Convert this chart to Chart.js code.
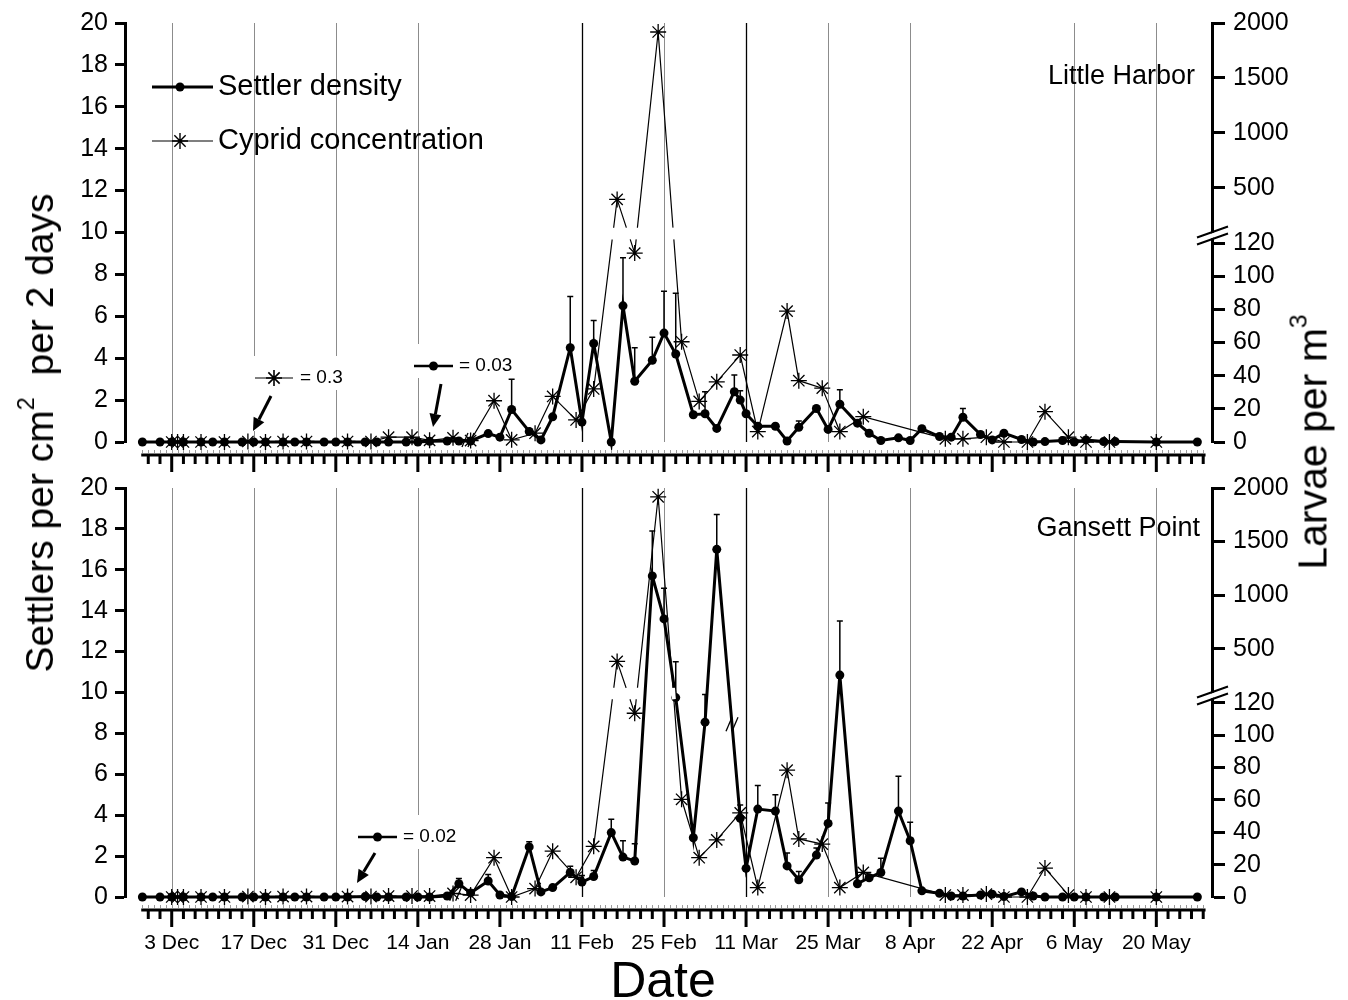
<!DOCTYPE html>
<html>
<head>
<meta charset="utf-8">
<title>Settler density and cyprid concentration</title>
<script src="https://cdn.jsdelivr.net/npm/chart.js@4.4.1/dist/chart.umd.min.js"></script>
<style>
  html, body { margin: 0; padding: 0; background: #fff; }
  #page { position: relative; width: 1348px; height: 1000px; font-family: 'Liberation Sans', Arial, sans-serif; color: #000; }
  .panel { position: absolute; left: 0; width: 1348px; }
  .ttl { position: absolute; white-space: nowrap; transform: translate(-50%, -50%); }
  .rot { transform: translate(-50%, -50%) rotate(-90deg); }
  sup { font-size: 60%; vertical-align: 0.8em; line-height: 0; }
</style>
</head>
<body>
<div id="page">
  <div class="panel" style="top:0;height:478px"><canvas id="lhChart"></canvas></div>
  <div class="panel" style="top:465px;height:535px"><canvas id="gpChart"></canvas></div>
  <div class="ttl rot" style="left:40px;top:433px;font-size:39px">Settlers per cm<sup>2</sup>&nbsp; per 2 days</div>
  <div class="ttl rot" style="left:1313px;top:442px;font-size:41px">Larvae per m<sup>3</sup></div>
  <div class="ttl" style="left:663px;top:980px;font-size:50px">Date</div>
</div>
<script>
// days counted from 3 Dec (day 0)
const tickDays = [0, 14, 28, 42, 56, 70, 84, 98, 112, 126, 140, 154, 168];
const tickLabels = ['3 Dec', '17 Dec', '31 Dec', '14 Jan', '28 Jan', '11 Feb', '25 Feb', '11 Mar', '25 Mar', '8 Apr', '22 Apr', '6 May', '20 May'];
const gridDays = [0, 14, 28, 42, 70, 84, 98, 112, 126, 154, 168];
const darkGridDays = [70, 98];
const larvaeTicks = [0, 20, 40, 60, 80, 100, 120, 500, 1000, 1500, 2000];

// Little Harbor – settlers per cm2 per 2 days
const settlerDaysLH = [-5, -2, 0, 2, 5, 7, 9, 12, 14, 16, 19, 21, 23, 26, 28, 30, 33, 35, 37, 40, 42, 44, 47, 49, 51,
  54, 56, 58, 61, 63, 65, 68, 70, 72, 75, 77, 79, 82, 84, 86, 89, 91, 93, 96, 97, 98, 100, 103, 105, 107, 110, 112, 114,
  117, 119, 121, 124, 126, 128, 131, 133, 135, 138, 140, 142, 145, 147, 149, 152, 154, 156, 159, 161, 168, 175];
const settlerLH = [0, 0, 0, 0, 0, 0, 0, 0, 0, 0, 0, 0, 0, 0, 0, 0, 0, 0, 0, 0, 0, 0.03, 0.05, 0.05, 0.05,
  0.4, 0.23, 1.55, 0.5, 0.1, 1.2, 4.5, 0.95, 4.7, 0, 6.5, 2.9, 3.9, 5.2, 4.2, 1.3, 1.35, 0.65, 2.4, 2.0, 1.35, 0.75, 0.75, 0.05, 0.7, 1.6, 0.6, 1.8,
  0.9, 0.42, 0.07, 0.2, 0.07, 0.63, 0.26, 0.23, 1.18, 0.36, 0.1, 0.42, 0.12, 0, 0.02, 0.07, 0, 0.1, 0.02, 0.02, 0, 0];
const errDaysLH = [58, 68, 72, 77, 79, 82, 84, 86, 91, 96, 97, 107, 114, 135];
const errTopLH = [3.0, 6.95, 5.8, 8.8, 4.5, 5.0, 7.2, 7.1, 2.4, 3.2, 2.45, 1.0, 2.5, 1.6];

// Gansett Point
const settlerDaysGP = [-5, -2, 0, 2, 5, 7, 9, 12, 14, 16, 19, 21, 23, 26, 28, 30, 33, 35, 37, 40, 42, 44, 47, 49, 51,
  54, 56, 58, 61, 63, 65, 68, 70, 72, 75, 77, 79, 82, 84, 86, 89, 91, 93, 97, 98, 100, 103, 105, 107, 110, 112, 114,
  117, 119, 121, 124, 126, 128, 131, 133, 135, 138, 140, 142, 145, 147, 149, 152, 154, 156, 159, 161, 168, 175];
const settlerGP = [0, 0, 0, 0, 0, 0, 0, 0, 0, 0, 0, 0, 0, 0, 0, 0, 0.02, 0, 0, 0, 0, 0, 0.05, 0.65, 0.2,
  0.78, 0.1, 0.02, 2.45, 0.25, 0.46, 1.2, 0.73, 1.0, 3.15, 1.95, 1.76, 15.7, 13.6, 9.75, 2.9, 8.55, 17.0, 3.85, 1.4, 4.3, 4.2, 1.52, 0.84, 2.05, 3.6, 10.85,
  0.65, 0.94, 1.2, 4.2, 2.75, 0.3, 0.18, 0.05, 0.05, 0.1, 0.14, 0.02, 0.25, 0.05, 0, 0, 0, 0, 0, 0, 0, 0];
const errDaysGP = [49, 54, 61, 68, 70, 72, 75, 77, 79, 82, 84, 86, 91, 93, 97, 100, 103, 105, 107, 110, 112, 114, 121, 124, 126];
const errTopGP = [0.9, 1.1, 2.7, 1.5, 1.05, 1.3, 3.8, 2.75, 2.6, 17.9, 15.1, 11.5, 9.9, 18.7, 4.5, 5.45, 5.0, 2.15, 1.25, 2.4, 4.6, 13.5, 1.9, 5.9, 3.65];

// cyprid concentration, larvae per m3
const cypridDays = [0, 1, 2, 5, 9, 13, 16, 19, 23, 30, 34, 37, 41, 44, 48, 51, 55, 58, 62, 65, 69, 72, 76, 79, 83,
  87, 90, 93, 97, 100, 105, 107, 111, 114, 118, 132, 135, 139, 142, 146, 149, 153, 156, 160, 168];
const cypridLH = [0, 0, 0, 0, 0, 0.3, 0, 0.3, 0.3, 0.3, 0.3, 2.9, 2.9, 1.0, 2.5, 0.9, 24.9, 1.3, 5.3, 27.5, 13.3, 32, 393, 114, 1918,
  60.5, 24.5, 36.3, 52.5, 6.3, 79, 37, 32.5, 6.3, 15.3, 1.9, 1.9, 2.9, 0, 0, 18.3, 2.9, 0, 0, 0];
const cypridGP = [0, 0, 0, 0, 0, 0.3, 0, 0.3, 0.3, 0.3, 0.3, 0.6, 0.6, 0.6, 2.2, 1.2, 24.3, 0, 5.2, 28.3, 12.2, 31.3, 382, 113.6, 1918,
  60.4, 24.3, 35.3, 52, 5.8, 78.4, 35.9, 32.7, 5.8, 15.2, 1.2, 1.2, 1.8, 0, 0, 17.9, 1.2, 0, 0, 0];

const X_MIN = -7.97, X_MAX = 177.5;
const BREAK_AXIS = 9.95, BREAK_HALF = 0.28;

Chart.defaults.font.family = "'Liberation Sans', Arial, sans-serif";
Chart.defaults.color = '#000';

// broken right axis: 0-120 linear below the break, 500-2000 compressed above it
function larvaeToAxis(v) {
  return v <= 120 ? v * 0.0791 : 9.52 + v * 0.00524;
}
function pts(days, vals, f) {
  return days.map((d, i) => ({ x: d, y: f ? f(vals[i]) : vals[i] }));
}

function drawStar(ctx, x, y, r) {
  ctx.beginPath();
  for (let a = 0; a < 4; a++) {
    const t = a * Math.PI / 4;
    ctx.moveTo(x - r * Math.cos(t), y - r * Math.sin(t));
    ctx.lineTo(x + r * Math.cos(t), y + r * Math.sin(t));
  }
  ctx.stroke();
}
function drawDot(ctx, x, y, r) {
  ctx.beginPath(); ctx.arc(x, y, r, 0, Math.PI * 2); ctx.fill();
}
function drawArrow(ctx, x1, y1, x2, y2) {
  const ang = Math.atan2(y2 - y1, x2 - x1);
  const head = 13, w = 6;
  const bx = x2 - head * Math.cos(ang), by = y2 - head * Math.sin(ang);
  ctx.lineWidth = 3;
  ctx.beginPath(); ctx.moveTo(x1, y1); ctx.lineTo(bx, by); ctx.stroke();
  ctx.beginPath(); ctx.moveTo(x2, y2);
  ctx.lineTo(bx + w * Math.sin(ang), by - w * Math.cos(ang));
  ctx.lineTo(bx - w * Math.sin(ang), by + w * Math.cos(ang));
  ctx.closePath(); ctx.fill();
}
function slashMark(ctx, x, y) {
  ctx.save();
  ctx.strokeStyle = '#000'; ctx.lineWidth = 1.3;
  [-3, 3].forEach(o => {
    ctx.beginPath(); ctx.moveTo(x + o - 3, y + 7); ctx.lineTo(x + o + 3, y - 7); ctx.stroke();
  });
  ctx.restore();
}

const panelDecor = {
  id: 'panelDecor',
  beforeDatasetsDraw(chart, args, o) {
    const { ctx } = chart;
    const x = chart.scales.x, y = chart.scales.y;
    ctx.save();
    gridDays.forEach(d => {
      const px = Math.round(x.getPixelForValue(d)) + 0.5;
      const dark = darkGridDays.includes(d);
      ctx.strokeStyle = dark ? '#000' : '#8c8c8c';
      ctx.lineWidth = dark ? 1.3 : 1;
      ctx.beginPath(); ctx.moveTo(px, y.getPixelForValue(20)); ctx.lineTo(px, y.getPixelForValue(0)); ctx.stroke();
    });
    // white boxes behind the annotations
    ctx.fillStyle = '#fff';
    ctx.font = '19px ' + Chart.defaults.font.family;
    (o.notes || []).forEach(n => {
      const tw = ctx.measureText(n.text).width;
      ctx.fillRect(n.x1 - 3, n.y - 22, n.tx + tw + 6 - n.x1, 34);
      const ax0 = Math.min(n.arrow[0], n.arrow[2]), ax1 = Math.max(n.arrow[0], n.arrow[2]);
      ctx.fillRect(ax0 - 4, n.y + 12, ax1 - ax0 + 8, n.arrow[3] - n.y - 12);
    });
    ctx.restore();
  },
  afterDatasetsDraw(chart, args, o) {
    const { ctx } = chart;
    const x = chart.scales.x, y = chart.scales.y;
    ctx.save();
    // upper error bars on settler density
    const sDays = o.settlerDays, sVals = o.settlerVals;
    ctx.strokeStyle = '#000'; ctx.lineWidth = 1.5;
    o.errDays.forEach((d, i) => {
      const k = sDays.indexOf(d);
      const px = x.getPixelForValue(d);
      const y0 = y.getPixelForValue(sVals[k]), y1 = y.getPixelForValue(o.errTop[i]);
      ctx.beginPath(); ctx.moveTo(px, y0); ctx.lineTo(px, y1);
      ctx.moveTo(px - 3, y1); ctx.lineTo(px + 3, y1); ctx.stroke();
    });
    // gaps where the cyprid line crosses the axis break
    const meta = chart.getDatasetMeta(1).data;
    const yb1 = y.getPixelForValue(BREAK_AXIS - BREAK_HALF), yb2 = y.getPixelForValue(BREAK_AXIS + BREAK_HALF);
    ctx.strokeStyle = '#fff'; ctx.lineWidth = 4;
    for (let i = 0; i < meta.length - 1; i++) {
      const a = meta[i], b = meta[i + 1];
      const lo = Math.max(a.y, b.y), hi = Math.min(a.y, b.y);
      if (lo > yb1 && hi < yb2) {
        const at = yy => a.x + (b.x - a.x) * (yy - a.y) / (b.y - a.y);
        ctx.beginPath(); ctx.moveTo(at(yb1), yb1); ctx.lineTo(at(yb2), yb2); ctx.stroke();
      }
    }
    // data break marks
    (o.slashes || []).forEach(s => {
      const md = chart.getDatasetMeta(s.ds).data;
      const a = md[s.i], b = md[s.i + 1];
      slashMark(ctx, a.x + (b.x - a.x) * s.t, a.y + (b.y - a.y) * s.t);
    });
    ctx.restore();
  },
  afterDraw(chart, args, o) {
    const { ctx, chartArea } = chart;
    const x = chart.scales.x, y2 = chart.scales.y2;
    const fam = Chart.defaults.font.family;
    ctx.save();
    // date axis, set off below the panel
    const axisY = chartArea.bottom + 13;
    const xa = x.getPixelForValue(-5.2), xb = x.getPixelForValue(176.4);
    ctx.fillStyle = '#000';
    ctx.fillRect(xa, axisY - 1.5, xb - xa, 3);
    ctx.fillStyle = '#9a9a9a';
    for (let d = -5; d <= 176; d++) ctx.fillRect(Math.round(x.getPixelForValue(d)), axisY - 5, 1, 3);
    ctx.fillStyle = '#000';
    for (let d = -4; d <= 176; d += 2) {
      const len = tickDays.includes(d) ? 17 : 9;
      ctx.fillRect(x.getPixelForValue(d) - 1.5, axisY, 3, len);
    }
    // break on the right axis
    const bx = chartArea.right, by = y2.getPixelForValue(BREAK_AXIS);
    ctx.fillStyle = '#fff';
    ctx.beginPath();
    ctx.moveTo(bx - 15, by + 5); ctx.lineTo(bx + 16, by - 6); ctx.lineTo(bx + 16, by - 1); ctx.lineTo(bx - 15, by + 10);
    ctx.closePath(); ctx.fill();
    ctx.strokeStyle = '#000'; ctx.lineWidth = 2;
    ctx.beginPath();
    ctx.moveTo(bx - 15, by + 4); ctx.lineTo(bx + 16, by - 7);
    ctx.moveTo(bx - 15, by + 11); ctx.lineTo(bx + 16, by);
    ctx.stroke();
    // site name
    ctx.fillStyle = '#000';
    ctx.font = '27px ' + fam;
    ctx.textAlign = 'right'; ctx.textBaseline = 'middle';
    ctx.fillText(o.site.text, o.site.x, o.site.y);
    ctx.textAlign = 'left';
    // legend
    if (o.legend) {
      ctx.strokeStyle = '#000';
      ctx.lineWidth = 3;
      ctx.beginPath(); ctx.moveTo(152, 87); ctx.lineTo(213, 87); ctx.stroke();
      drawDot(ctx, 180, 87, 4.5);
      ctx.lineWidth = 1.2;
      ctx.beginPath(); ctx.moveTo(152, 141); ctx.lineTo(213, 141); ctx.stroke();
      ctx.lineWidth = 1.4;
      drawStar(ctx, 180, 141, 8);
      ctx.font = '29px ' + fam;
      ctx.fillText('Settler density', 218, 87);
      ctx.fillText('Cyprid concentration', 218, 141);
    }
    // first-occurrence notes
    ctx.font = '19px ' + fam;
    (o.notes || []).forEach(n => {
      ctx.strokeStyle = '#000'; ctx.fillStyle = '#000';
      ctx.lineWidth = n.sym === 'dot' ? 2.5 : 1.2;
      ctx.beginPath(); ctx.moveTo(n.x1, n.y); ctx.lineTo(n.x2, n.y); ctx.stroke();
      const cx = (n.x1 + n.x2) / 2;
      if (n.sym === 'dot') drawDot(ctx, cx, n.y, 4.5); else { ctx.lineWidth = 1.6; drawStar(ctx, cx, n.y, 8); }
      ctx.fillText(n.text, n.tx, n.y);
      drawArrow(ctx, ...n.arrow);
    });
    ctx.restore();
  }
};

function xScale(showLabels) {
  return {
    type: 'linear', min: X_MIN, max: X_MAX,
    afterBuildTicks: s => { s.ticks = tickDays.map(v => ({ value: v })); },
    afterFit: s => { s.height = showLabels ? 103 : 36; },
    grid: { display: false, drawTicks: false },
    border: { display: false },
    ticks: { display: showLabels, autoSkip: false, maxRotation: 0, padding: 34, font: { size: 21 }, color: '#000',
      callback: (v, i) => tickLabels[i] }
  };
}
const axisGrid = { drawOnChartArea: false, tickLength: 10, tickWidth: 3, tickColor: '#000' };
const axisBorder = { width: 3, color: '#000' };

function makePanel(canvasId, site, cfg) {
  const datasets = [
    { label: 'Settler density', data: pts(cfg.settlerDays, cfg.settlerVals), yAxisID: 'y',
      borderColor: '#000', borderWidth: 3, pointRadius: 4.5, pointHoverRadius: 4.5,
      pointBackgroundColor: '#000', pointBorderWidth: 0, tension: 0, clip: false },
    { label: 'Cyprid concentration', data: pts(cypridDays, cfg.cyprid, larvaeToAxis), yAxisID: 'y2',
      borderColor: '#000', borderWidth: 1.2, pointStyle: 'star', pointRadius: 8, pointHoverRadius: 8,
      pointBorderColor: '#000', pointBorderWidth: 1.3, tension: 0, clip: false }
  ];
  return new Chart(document.getElementById(canvasId), {
    type: 'line',
    data: { datasets },
    plugins: [panelDecor],
    options: {
      responsive: true, maintainAspectRatio: false, animation: false, events: [],
      layout: { padding: { top: cfg.padTop, bottom: 0, left: 0, right: 0 } },
      scales: {
        x: xScale(cfg.showDates),
        y: { position: 'left', min: 0, max: 20,
          afterFit: s => { s.width = 125; },
          ticks: { stepSize: 2, font: { size: 25 }, color: '#000', padding: 7 },
          grid: axisGrid, border: axisBorder },
        y2: { position: 'right', min: 0, max: 20,
          afterBuildTicks: s => { s.ticks = larvaeTicks.map(v => ({ value: larvaeToAxis(v) })); },
          afterFit: s => { s.width = 136; },
          ticks: { autoSkip: false, font: { size: 25 }, color: '#000', padding: 8,
            callback: (v, i) => String(larvaeTicks[i]) },
          grid: Object.assign({}, axisGrid, { tickLength: 13 }), border: axisBorder }
      },
      plugins: {
        legend: { display: false }, tooltip: { enabled: false },
        panelDecor: {
          site, legend: cfg.legend, notes: cfg.notes, slashes: cfg.slashes,
          settlerDays: cfg.settlerDays, settlerVals: cfg.settlerVals, errDays: cfg.errDays, errTop: cfg.errTop
        }
      }
    }
  });
}

makePanel('lhChart', { text: 'Little Harbor', x: 1195, y: 77 }, {
  settlerDays: settlerDaysLH, settlerVals: settlerLH, errDays: errDaysLH, errTop: errTopLH, cyprid: cypridLH,
  padTop: 21, showDates: false, legend: true,
  notes: [
    { sym: 'star', x1: 255, x2: 293, y: 378, text: '= 0.3', tx: 300, arrow: [271, 396, 253, 431] },
    { sym: 'dot', x1: 414, x2: 453, y: 366, text: '= 0.03', tx: 459, arrow: [441, 384, 433, 427] }
  ],
  slashes: [{ ds: 1, i: cypridDays.indexOf(48), t: 0.85 }]
});

makePanel('gpChart', { text: 'Gansett Point', x: 1200, y: 64 }, {
  settlerDays: settlerDaysGP, settlerVals: settlerGP, errDays: errDaysGP, errTop: errTopGP, cyprid: cypridGP,
  padTop: 12, showDates: true, legend: false,
  notes: [
    { sym: 'dot', x1: 358, x2: 397, y: 372, text: '= 0.02', tx: 403, arrow: [375, 388, 357, 418] }
  ],
  slashes: [{ ds: 1, i: cypridDays.indexOf(48), t: 0.15 }, { ds: 0, i: settlerDaysGP.indexOf(93), t: 0.65 }]
});
</script>
</body>
</html>
